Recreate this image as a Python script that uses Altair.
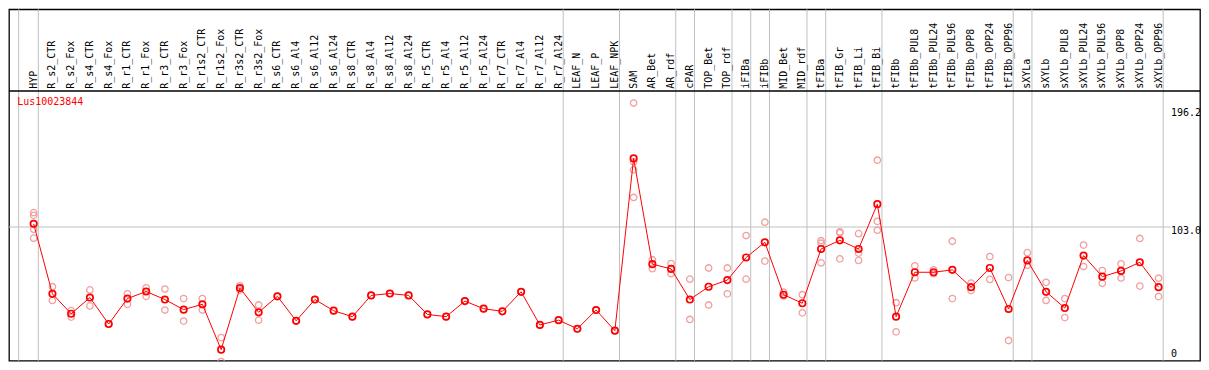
import altair as alt
import pandas as pd

title_text = "Lus10023844"

labels = ["HYP", "R_s2_CTR", "R_s2_Fox", "R_s4_CTR", "R_s4_Fox", "R_r1_CTR", "R_r1_Fox",
          "R_r3_CTR", "R_r3_Fox", "R_r1s2_CTR", "R_r1s2_Fox", "R_r3s2_CTR", "R_r3s2_Fox",
          "R_s6_CTR", "R_s6_Al4", "R_s6_Al12", "R_s6_Al24", "R_s8_CTR", "R_s8_Al4",
          "R_s8_Al12", "R_s8_Al24", "R_r5_CTR", "R_r5_Al4", "R_r5_Al12", "R_r5_Al24",
          "R_r7_CTR", "R_r7_Al4", "R_r7_Al12", "R_r7_Al24", "LEAF_N", "LEAF_P", "LEAF_NPK",
          "SAM", "AR_Bet", "AR_rdf", "cPAR", "TOP_Bet", "TOP_rdf", "iFIBa", "iFIBb",
          "MID_Bet", "MID_rdf", "tFIBa", "tFIB_Gr", "tFIB_Li", "tFIB_Bi", "tFIBb",
          "tFIBb_PUL8", "tFIBb_PUL24", "tFIBb_PUL96", "tFIBb_OPP8", "tFIBb_OPP24",
          "tFIBb_OPP96", "sXYLa", "sXYLb", "sXYLb_PUL8", "sXYLb_PUL24", "sXYLb_PUL96",
          "sXYLb_OPP8", "sXYLb_OPP24", "sXYLb_OPP96"]

means = [105.4, 52.8, 37.8, 50.0, 30.1, 49.2, 54.5, 48.5, 40.9, 44.9, 10.8, 57.1, 38.9,
         50.9, 32.5, 48.5, 40.1, 35.6, 51.6, 53.0, 51.6, 37.3, 35.6, 47.3, 41.6,
         39.6, 54.3, 29.4, 33.0, 26.5, 40.6, 25.1,
         154.6, 75.1, 71.5, 48.5, 58.1, 63.1, 80.1, 91.5, 52.1, 45.7, 86.5, 93.0, 86.5,
         120.2, 35.6, 69.0, 69.0, 70.8, 57.8, 72.2, 41.4, 77.9, 54.3, 42.1, 81.5, 65.7,
         70.0, 76.5, 57.8]

replicates = [
    [113.8, 111.8, 101.3, 94.6], [58.1, 47.8], [40.1, 35.3], [55.7, 43.7], [30.1],
    [52.8, 44.9], [57.3, 50.9], [56.4, 40.6], [49.2, 32.3], [49.2, 40.6], [19.9, 1.9],
    [58.8, 55.6], [44.4, 33.0], [50.9], [32.5], [48.5], [40.1], [35.6], [51.6], [53.0],
    [51.6], [37.3], [35.6], [47.3], [41.6], [39.6], [54.3], [29.4], [33.0], [26.5],
    [40.6], [25.1],
    [196.2, 152.0, 146.0, 125.2], [78.4, 71.7], [75.5, 67.9], [63.8, 33.5], [72.2, 44.4],
    [72.2, 52.8], [96.6, 63.8], [106.6, 77.4], [54.0, 51.1], [52.1, 38.5],
    [92.7, 90.8, 76.0], [99.4, 98.7, 79.1], [98.0, 83.4, 77.9], [153.2, 107.3, 100.6],
    [46.1, 24.2], [73.8, 64.7], [70.8, 67.9], [92.3, 49.2], [60.9, 55.2], [80.8, 63.6],
    [65.0, 17.7], [83.7, 74.3], [61.4, 47.8], [49.2, 34.9], [89.4, 73.3], [70.3, 60.7],
    [75.3, 64.7], [94.4, 58.6], [64.5, 50.7]]

# index of last column in each group (separators drawn after these)
group_ends = [-1, 0, 28, 31, 34, 35, 37, 38, 39, 41, 42, 45, 52, 53, 60]

y_ticks = [196.2, 103.0, 0]
y_tick_labels = ["196.2", "103.0", "0"]
grid_value = 103.0

# ---- layout (styling) ----
W, H = 1193, 352
SX = W / 1207.0
SY = H / 368.5
x_dom = [-25 / 19.0, 1182 / 19.0]
y_dom = [(372 - 368.5) / 1.395, 372 / 1.395]

xs = alt.Scale(domain=x_dom, nice=False, zero=False)
ys = alt.Scale(domain=y_dom, nice=False, zero=False)

FONT = "DejaVu Sans Mono"
RED = "#ff0000"
PINK = "#f0a0a0"
GRID = "#c0c0c0"

df_mean = pd.DataFrame({"i": list(range(len(labels))), "label": labels, "v": means})
rows = []
for i, vals in enumerate(replicates):
    for v in vals:
        rows.append({"i": i, "v": v})
df_rep = pd.DataFrame(rows)
df_grid = pd.DataFrame({"g": [(e + 0.247) if e >= 0 else -0.8 for e in group_ends]})

X = alt.X("i:Q", scale=xs, axis=None)
Y = alt.Y("v:Q", scale=ys, axis=None)

vgrid = alt.Chart(df_grid).mark_rule(color=GRID, strokeWidth=1).encode(
    x=alt.X("g:Q", scale=xs, axis=None))

hgrid = alt.Chart(pd.DataFrame({"v": [grid_value]})).mark_rule(color=GRID, strokeWidth=1).encode(
    x=alt.value(0), x2=alt.value(1177 * SX), y=Y)

header_line = alt.Chart(pd.DataFrame({"a": [0]})).mark_rule(color="black", strokeWidth=1.3).encode(
    x=alt.value(0), x2=alt.value(W), y=alt.value(85.7 * SY))

header_text = alt.Chart(df_mean).mark_text(
    angle=270, align="left", baseline="middle", font=FONT, fontSize=10, color="black", dx=0
).encode(x=X, y=alt.value(83.3 * SY), text="label:N")

title = alt.Chart(pd.DataFrame({"t": [title_text]})).mark_text(
    align="left", baseline="alphabetic", font=FONT, fontSize=10, color=RED
).encode(x=alt.value(8.3 * SX), y=alt.value(100.7 * SY), text="t:N")

reps = alt.Chart(df_rep).mark_point(
    shape="circle", filled=False, color=PINK, size=42, strokeWidth=1.3, opacity=1, clip=True
).encode(x=X, y=Y)

line = alt.Chart(df_mean).mark_line(color=RED, strokeWidth=1).encode(x=X, y=Y)

mean_pts = alt.Chart(df_mean).mark_point(
    shape="circle", filled=False, color=RED, size=42, strokeWidth=1.7, opacity=1
).encode(x=X, y=Y)

dys = [12.8, 7.0, -6.7]
tick_layers = []
for val, lab, dy in zip(y_ticks, y_tick_labels, dys):
    tick_layers.append(
        alt.Chart(pd.DataFrame({"v": [val], "t": [lab]})).mark_text(
            align="left", baseline="alphabetic", font=FONT, fontSize=10, color="black", dy=dy
        ).encode(x=alt.value(1177.5 * SX), y=Y, text="t:N")
    )

chart = alt.layer(vgrid, hgrid, header_line, header_text, title, reps, line, mean_pts,
                  *tick_layers).properties(
    width=W, height=H, padding=0
).configure_view(stroke="black", strokeWidth=1.3)

chart.save("out.html", embed_options={"renderer": "svg", "actions": False})
